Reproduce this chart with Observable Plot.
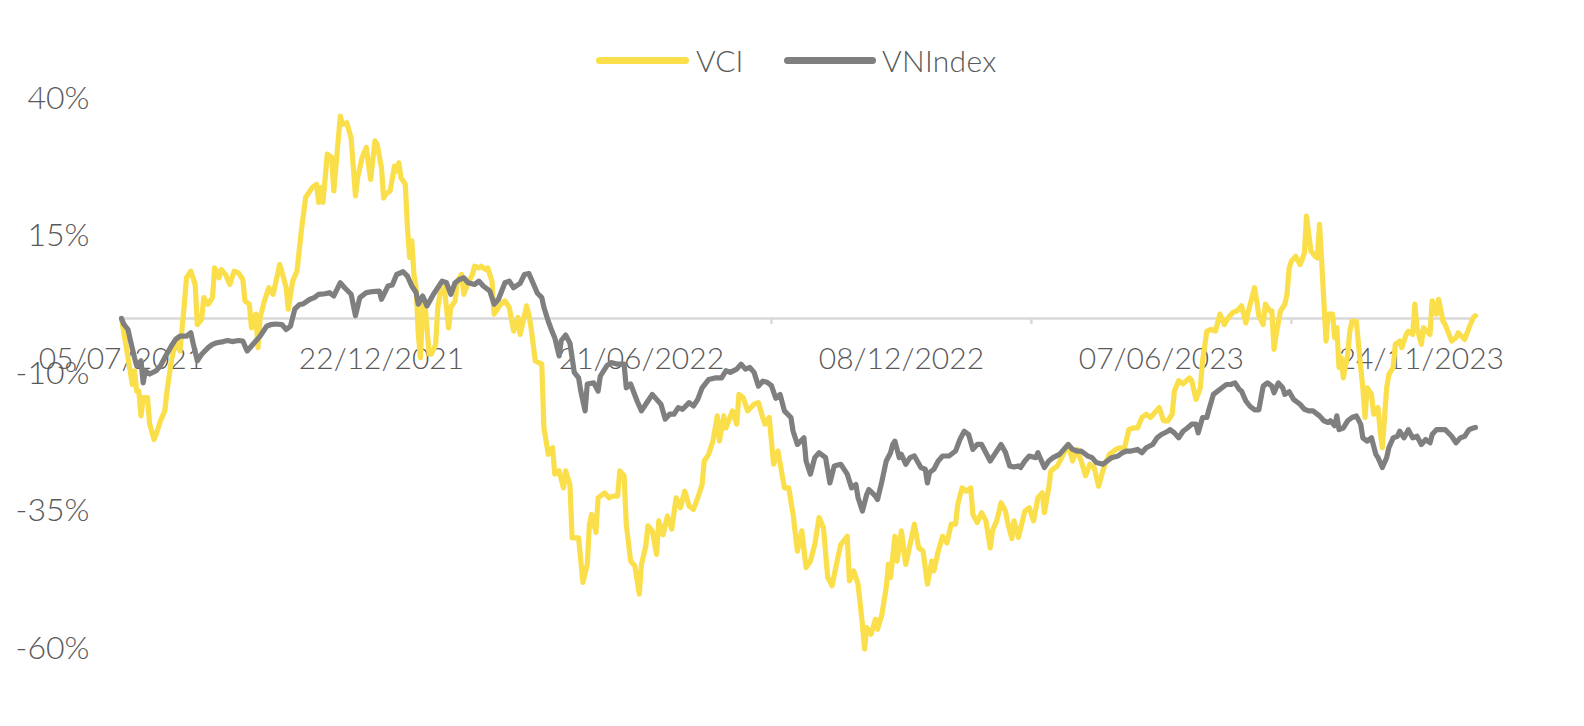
<!DOCTYPE html>
<html>
<head>
<meta charset="utf-8">
<script src="https://cdn.jsdelivr.net/npm/d3@7"></script>
<script src="https://cdn.jsdelivr.net/npm/@observablehq/plot@0.6"></script>
<style>
  html, body { margin: 0; padding: 0; background: #ffffff; }
  #wrap { position: relative; width: 1584px; height: 726px; font-family: Lato, "Noto Sans", sans-serif; font-weight: 300; color: #595959; }
  .sw { position: absolute; height: 7px; border-radius: 4px; top: 57px; }
  .lt { position: absolute; top: 40px; font-size: 30px; line-height: 40px; font-weight: 300; color: #595959; }
  #chart { position: absolute; left: 0; top: 0; }
</style>
</head>
<body>
<div id="wrap">
  <div id="chart"></div>
  <div class="sw" style="left:596px;width:93px;background:#FADF4B"></div>
  <div class="lt" style="left:696px">VCI</div>
  <div class="sw" style="left:784px;width:92px;background:#7F7F7F"></div>
  <div class="lt" style="left:882px;letter-spacing:0.3px">VNIndex</div>
</div>
<script>
// Trading-day index from 05/07/2021 and cumulative return (%)
const vciDay = [0,2,3,5,6,7,8,9,10,12,13,15,16,18,20,21,23,24,26,27,29,30,32,34,35,37,38,40,42,43,45,46,48,50,52,54,56,57,59,60,62,63,64,66,68,70,73,74,76,77,79,81,83,85,87,88,90,91,92,93,95,97,98,101,102,104,106,108,109,111,113,114,115,117,118,120,121,122,124,126,127,128,129,131,132,133,134,135,136,137,138,139,140,142,143,145,146,147,149,151,152,154,155,157,158,160,162,163,165,166,168,169,171,172,173,175,177,179,181,183,184,187,188,189,191,194,195,197,199,200,202,204,205,207,208,211,213,215,216,217,219,220,223,225,227,229,230,232,233,235,237,239,240,242,243,245,247,248,250,252,254,256,258,260,262,264,266,268,269,271,273,275,276,278,279,282,284,285,287,289,292,294,296,297,299,301,303,306,308,310,312,314,316,318,320,322,324,326,328,330,332,335,336,338,340,342,343,344,346,348,349,351,353,354,355,357,358,360,362,364,366,368,370,372,374,375,377,379,381,383,385,386,388,390,392,393,395,397,399,401,402,404,406,408,409,411,412,414,417,419,421,423,425,426,428,429,432,434,437,439,441,443,445,447,449,451,453,454,456,459,461,463,465,467,469,471,473,475,477,479,481,483,485,486,488,490,493,494,496,498,499,501,503,505,507,509,511,513,515,517,519,520,523,524,525,527,528,530,531,532,533,535,537,538,539,540,542,544,545,546,547,549,551,552,553,554,556,557,559,560,561,562,563,564,566,567,568,570,572,573,574,575,577,578,580,581,582,584,585,587,588,590,591,593,594,596,597,598,600,601,604,605,607,608,610,611,614,616,617,620,622,624,625];
const vciPct = [0,-4.7,-7.1,-12.0,-9.5,-13.2,-13.2,-17.7,-14.4,-14.4,-19.2,-22.0,-21.1,-18.6,-16.8,-13.2,-7.7,-5.9,-3.5,-5.9,2.6,7.4,8.6,6.2,-1.1,-0.1,3.8,2.6,3.8,9.2,7.4,8.9,8.0,6.2,8.6,8.3,7.1,3.2,2.6,-1.7,0.8,-5.3,0.2,3.2,5.6,4.4,9.8,8.6,5.6,1.7,6.8,8.6,15.9,22.0,23.2,23.8,24.4,21.1,23.8,21.1,29.9,29.3,23.2,36.8,35.3,35.6,32.8,22.3,25.6,29.2,31.1,28.0,25.3,32.3,31.7,27.4,21.9,22.6,23.2,27.7,26.8,28.3,25.6,24.4,16.5,11.1,14.1,8.0,5.6,-2.9,-7.1,2.0,3.2,-6.5,-6.5,-4.8,2.0,4.4,5.6,-1.7,2.0,3.2,6.8,8.0,4.4,6.5,8.0,9.5,9.2,9.5,8.9,9.2,6.8,0.8,1.4,2.6,3.2,2.0,-2.3,0.2,-2.9,2.3,0.8,-1.5,-7.7,-8.3,-19.9,-24.7,-23.5,-28.3,-27.7,-30.8,-27.7,-30.2,-39.9,-39.9,-48.0,-44.7,-37.4,-35.6,-38.9,-32.6,-31.7,-32.6,-32.3,-32.3,-27.7,-28.6,-37.4,-44.1,-45.0,-50.1,-44.7,-41.4,-37.7,-38.6,-42.9,-36.8,-39.3,-35.9,-38.3,-32.6,-34.4,-31.4,-34.1,-34.7,-32.6,-30.2,-25.9,-24.7,-22.3,-17.7,-22.3,-17.7,-19.9,-16.8,-19.2,-13.8,-14.4,-16.8,-15.6,-15.3,-18.0,-19.2,-18.0,-26.5,-24.1,-30.8,-30.8,-35.6,-42.3,-38.6,-45.3,-44.1,-41.1,-36.2,-38.0,-47.1,-48.6,-44.7,-41.1,-39.6,-47.7,-45.9,-48.3,-55.6,-60.1,-56.2,-57.4,-54.7,-56.5,-53.8,-48.9,-44.7,-47.1,-39.6,-44.1,-38.6,-44.7,-41.1,-37.4,-41.7,-42.3,-48.3,-44.1,-45.9,-42.3,-39.6,-40.8,-37.4,-37.4,-33.8,-30.8,-31.4,-30.8,-35.6,-37.1,-35.3,-36.8,-41.7,-38.6,-36.8,-33.5,-35.0,-37.0,-40.0,-36.8,-39.8,-35.0,-34.4,-36.8,-32.6,-31.7,-35.3,-30.8,-27.7,-26.8,-25.3,-22.9,-25.9,-23.8,-25.9,-28.6,-26.5,-27.1,-30.5,-27.7,-26.5,-24.7,-23.8,-23.5,-23.5,-20.2,-19.9,-19.9,-18.0,-17.4,-18.0,-17.1,-16.2,-18.6,-18.6,-17.4,-13.2,-11.3,-11.9,-10.8,-11.3,-14.7,-12.6,-7.7,-2.3,-2.0,-2.3,0.8,-1.1,0.2,1.1,1.4,2.3,-0.8,1.1,5.6,3.2,0.5,-1.1,2.6,1.4,1.4,-5.6,-2.9,1.4,2.6,4.4,9.2,10.4,11.3,9.8,10.7,11.9,18.6,12.3,11.3,11.0,17.1,10.4,-4.1,0.8,0.8,-3.5,-1.7,-8.9,-7.1,-10.8,-6.5,-2.3,-0.5,-0.5,-8.9,-12.6,-18.0,-12.6,-13.8,-17.4,-16.2,-20.5,-23.5,-12.6,-10.2,-8.9,-4.7,-4.1,-5.3,-2.9,-2.3,-2.9,2.6,-1.7,-4.7,-1.7,-2.9,3.2,0.8,3.5,-0.5,-1.1,-4.1,-3.5,-2.6,-3.8,-1.7,0.2,0.5];

const vniDay = [0,1,3,4,6,7,9,10,11,13,16,18,20,23,25,27,30,32,33,35,37,40,42,44,47,49,51,54,56,58,60,62,64,67,69,71,74,76,78,80,82,84,87,89,91,94,96,98,101,103,106,108,110,113,116,119,120,123,125,127,130,132,134,136,137,139,141,144,146,148,150,152,154,156,158,160,163,165,167,170,172,174,177,179,181,184,186,188,190,192,194,195,197,199,200,202,203,205,207,209,211,212,214,215,218,220,221,224,226,229,232,233,235,238,240,242,245,247,249,251,253,255,257,259,262,264,266,268,271,274,277,279,281,284,286,288,290,292,294,296,298,300,302,304,306,309,310,312,315,316,318,320,322,325,327,329,332,335,337,339,340,342,344,345,348,349,351,353,355,356,357,359,360,362,364,366,369,371,372,373,375,377,379,382,385,387,389,391,393,395,397,399,401,403,406,408,410,412,414,415,417,419,422,423,426,428,430,433,435,437,439,441,443,446,448,450,453,455,457,460,462,464,466,469,471,473,476,478,480,483,484,486,488,490,492,494,496,497,499,501,502,504,506,508,510,512,514,516,517,519,521,523,525,527,529,531,532,534,536,537,539,541,544,546,548,550,553,555,557,558,560,561,562,564,566,568,570,572,573,575,577,579,580,582,584,585,587,589,590,592,594,596,598,600,602,604,605,607,609,611,614,616,618,620,622,624,625];
const vniPct = [0,-1.0,-2.0,-3.8,-7.1,-8.6,-7.7,-11.7,-9.5,-10.1,-9.5,-8.6,-7.1,-5.0,-3.8,-3.2,-3.2,-2.6,-4.4,-7.7,-6.5,-5.3,-4.7,-4.4,-4.2,-4.0,-4.2,-4.0,-4.1,-5.9,-5.0,-4.1,-3.2,-1.4,-1.1,-1.0,-1.1,-2.0,-1.4,1.7,2.5,2.7,3.5,3.8,4.4,4.5,4.7,4.1,6.5,5.6,4.4,0.5,3.8,4.7,4.9,5.0,3.5,5.9,6.1,8.0,8.5,7.7,5.9,4.7,2.6,4.1,2.3,4.4,5.6,6.8,6.5,4.4,6.5,7.1,7.4,6.5,6.2,6.8,5.9,5.0,2.6,3.5,6.5,6.8,5.6,6.4,8.0,8.2,6.4,4.6,3.8,2.0,-0.5,-2.6,-3.5,-6.8,-4.0,-3.0,-4.5,-9.8,-10.8,-13.2,-16.8,-11.9,-11.7,-13.2,-10.5,-8.6,-8.0,-8.3,-8.3,-12.6,-11.9,-15.0,-16.8,-15.6,-13.8,-14.7,-15.6,-18.3,-17.4,-17.4,-16.2,-16.5,-15.3,-15.9,-14.7,-12.6,-11.1,-10.8,-10.8,-9.5,-9.8,-9.2,-8.3,-9.2,-8.9,-9.8,-12.3,-11.4,-11.6,-12.2,-14.5,-13.8,-16.8,-18.0,-20.5,-22.9,-21.7,-25.9,-28.3,-25.3,-24.4,-25.3,-29.9,-26.8,-26.5,-28.3,-30.8,-30.2,-32.6,-35.0,-32.0,-31.1,-32.3,-32.9,-29.6,-25.9,-24.4,-22.9,-22.3,-25.3,-24.7,-26.5,-25.3,-25.0,-27.1,-27.4,-29.9,-28.0,-27.4,-25.9,-25.0,-25.0,-24.1,-22.0,-20.5,-21.1,-23.8,-22.9,-22.9,-24.4,-25.9,-24.7,-22.9,-24.3,-26.8,-27.0,-26.8,-27.1,-25.9,-25.0,-25.3,-24.4,-27.1,-25.9,-25.3,-24.7,-23.8,-22.9,-23.8,-24.1,-24.1,-25.0,-25.3,-26.2,-26.5,-25.9,-25.3,-25.0,-24.4,-24.1,-24.1,-23.8,-24.4,-23.5,-22.9,-21.7,-21.1,-20.5,-20.2,-20.8,-21.7,-20.5,-19.9,-19.2,-19.2,-20.8,-18.0,-18.0,-16.5,-13.8,-13.2,-12.6,-12.0,-12.0,-11.7,-12.9,-13.2,-15.0,-16.0,-16.6,-16.6,-12.3,-11.7,-12.3,-13.5,-11.7,-12.6,-13.8,-13.3,-14.7,-15.6,-16.5,-16.8,-16.8,-17.7,-18.6,-18.9,-18.6,-19.5,-17.7,-20.2,-19.9,-18.6,-18.0,-17.7,-19.2,-21.7,-22.3,-21.7,-24.7,-25.3,-27.1,-25.3,-23.5,-21.7,-21.4,-20.5,-21.7,-20.2,-21.7,-21.4,-22.9,-22.0,-22.6,-21.1,-20.2,-20.2,-20.2,-21.4,-22.6,-21.7,-21.4,-20.2,-19.9,-19.8];

const xLabelDays = [0, 120, 240, 360, 480, 600];
const xLabels = ["05/07/2021", "22/12/2021", "21/06/2022", "08/12/2022", "07/06/2023", "24/11/2023"];
const xTickDays = [60, 180, 300, 420, 540];
const yTicks = [40, 15, -10, -35, -60];

const vci = vciDay.map((d, i) => ({day: d, pct: vciPct[i]}));
const vni = vniDay.map((d, i) => ({day: d, pct: vniPct[i]}));
const xLab = xLabelDays.map((d, i) => ({day: d, label: xLabels[i]}));

const chart = Plot.plot({
  width: 1584,
  height: 726,
  marginTop: 98,
  marginBottom: 78,
  marginLeft: 121,
  marginRight: 109,
  style: {fontFamily: "Lato, 'Noto Sans', sans-serif", fontSize: "32px", fontWeight: 300, color: "#595959", background: "#ffffff", overflow: "visible"},
  x: {domain: [0, 625], axis: null},
  y: {domain: [-60, 40], ticks: yTicks, tickFormat: d => `${d}%`, tickSize: 0, tickPadding: 32, label: null},
  marks: [
    Plot.ruleY([0], {stroke: "#D9D9D9", strokeWidth: 2.5}),
    Plot.ruleX(xTickDays, {x: d => d, y1: 0, y2: -1.1, stroke: "#D9D9D9", strokeWidth: 2.5}),
    Plot.text(xLab, {x: "day", y: () => 0, text: "label", dy: 41, fill: "#595959", fontSize: 30, fontWeight: 300}),
    Plot.line(vci, {x: "day", y: "pct", stroke: "#FADF4B", strokeWidth: 5.2, strokeLinejoin: "round", strokeLinecap: "round"}),
    Plot.line(vni, {x: "day", y: "pct", stroke: "#7F7F7F", strokeWidth: 5.2, strokeLinejoin: "round", strokeLinecap: "round"})
  ]
});
document.getElementById("chart").appendChild(chart);
</script>
</body>
</html>
